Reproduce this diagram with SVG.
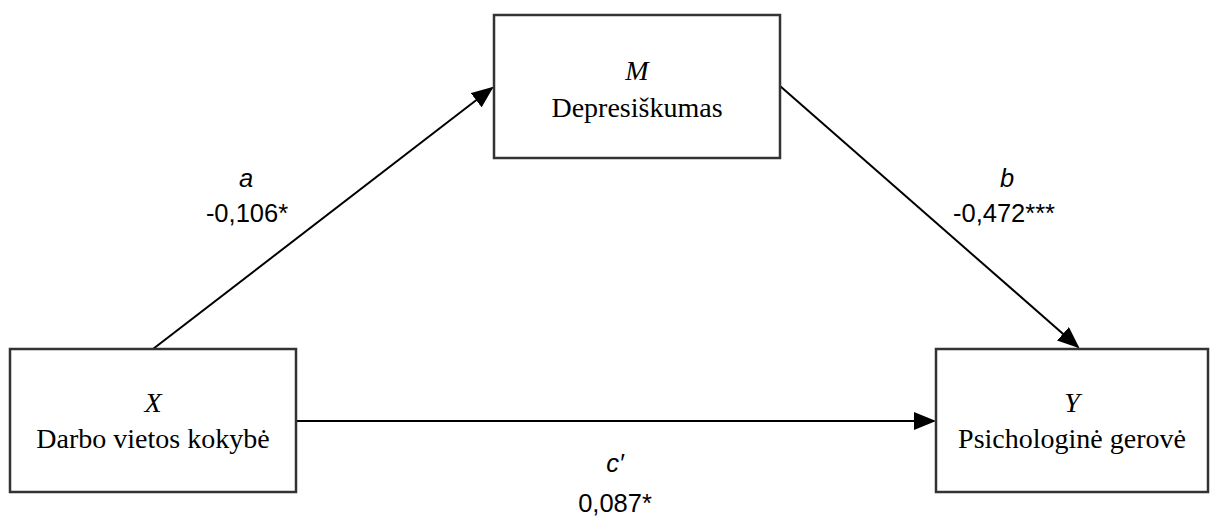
<svg xmlns="http://www.w3.org/2000/svg" width="1211" height="517" viewBox="0 0 1211 517">
<style>
.box{fill:#fff;stroke:#333;stroke-width:2.5}
.t{font-family:"Liberation Serif","Times New Roman",serif;font-size:28px;fill:#000;text-anchor:middle}
.i{font-style:italic}
.lab{font-family:"Liberation Sans",Arial,sans-serif;font-size:25.5px;fill:#000;text-anchor:middle}
.edge{stroke:#000;stroke-width:2;fill:none;marker-end:url(#ah)}
</style>
<defs>
<marker id="ah" markerWidth="11" markerHeight="9" refX="10" refY="4.5" orient="auto" markerUnits="strokeWidth">
<path d="M0,0 L11,4.5 L0,9 Z" fill="#000"/>
</marker>
</defs>
<rect width="1211" height="517" fill="#fff"/>
<g id="edges">
<line class="edge" x1="153" y1="349" x2="492" y2="88"/>
<line class="edge" x1="780" y1="86" x2="1078" y2="347"/>
<line class="edge" x1="296" y1="421" x2="934" y2="421"/>
</g>
<g id="labels">
<text class="lab i" x="246" y="187">a</text>
<text class="lab" x="247" y="222">-0,106*</text>
<text class="lab i" x="1007" y="187">b</text>
<text class="lab" x="1004" y="222">-0,472***</text>
<text class="lab i" x="615" y="472">c′</text>
<text class="lab" x="615" y="512">0,087*</text>
</g>
<g id="node-M">
<rect class="box" x="494" y="15" width="286" height="143"/>
<text class="t i" x="637" y="80">M</text>
<text class="t" x="637" y="117">Depresiškumas</text>
</g>
<g id="node-X">
<rect class="box" x="10" y="349" width="286" height="143"/>
<text class="t i" x="153" y="412">X</text>
<text class="t" x="153" y="448">Darbo vietos kokybė</text>
</g>
<g id="node-Y">
<rect class="box" x="936" y="349" width="272" height="143"/>
<text class="t i" x="1072" y="412">Y</text>
<text class="t" x="1072" y="448">Psichologinė gerovė</text>
</g>
</svg>
